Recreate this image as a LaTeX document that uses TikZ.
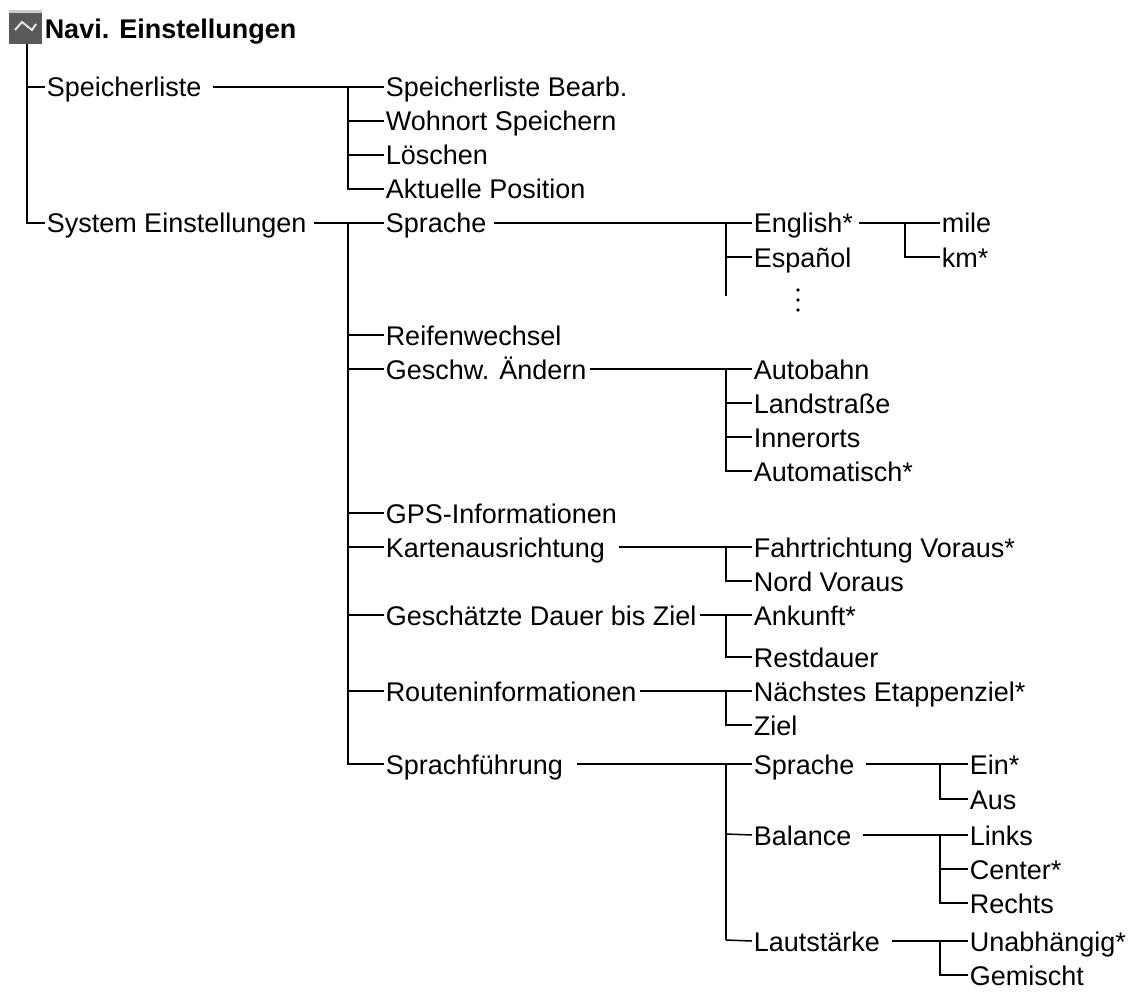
\documentclass[tikz,border=0pt]{standalone}
\usepackage{fontspec}
\setmainfont{Liberation Sans}
\begin{document}
\begin{tikzpicture}[x=1pt,y=-1pt,line width=1.5pt,
 t/.style={anchor=west,inner sep=1pt,text height=20pt,text depth=0pt,font=\fontsize{27}{30}\selectfont,yshift=-1pt}]
\useasboundingbox (0,0) rectangle (1145,992);
% icon
\fill[gray!70!black] (9,10) rectangle (42,44);
\fill[gray!40] (9,10) rectangle (42,13);
\draw[white!80!gray,line width=2pt] (15,30) -- (22,22) -- (32,30) -- (36,24);
\node[anchor=west,inner sep=0pt,font=\bfseries\fontsize{27}{30}\selectfont] (root) at (44,32) {Navi. Einstellungen};
% level 1
\node[t] (sp) at (45,86) {Speicherliste};
\node[t] (se) at (45,222) {System Einstellungen};
\draw (27,44) |- (sp.west);
\draw (27,86) |- (se.west);
% Speicherliste children
\node[t] (a1) at (384,86) {Speicherliste Bearb.};
\node[t] (a2) at (384,120) {Wohnort Speichern};
\node[t] (a3) at (384,154) {Löschen};
\node[t] (a4) at (384,188) {Aktuelle Position};
\draw ([xshift=10pt]sp.east) -- (a1.west);
\draw (348,86) |- (a4.west);
\foreach \n in {a2,a3} \draw (348,0 |- \n.west) -- (\n.west);
% System children
\node[t] (b1) at (384,222) {Sprache};
\node[t] (b2) at (384,334) {Reifenwechsel};
\node[t] (b3) at (384,368) {Geschw. Ändern};
\node[t] (b4) at (384,512) {GPS-Informationen};
\node[t] (b5) at (384,546) {Kartenausrichtung};
\node[t] (b6) at (384,614) {Geschätzte Dauer bis Ziel};
\node[t] (b7) at (384,690) {Routeninformationen};
\node[t] (b8) at (384,763) {Sprachführung};
\draw ([xshift=6pt]se.east) -- (b1.west);
\draw (348,222) |- (b8.west);
\foreach \n in {b2,b3,b4,b5,b6,b7} \draw (348,0 |- \n.west) -- (\n.west);
% Sprache
\node[t] (c1) at (752,222) {English*};
\node[t] (c2) at (752,256) {Español};
\coordinate (cd) at (798,300);
\foreach \dy in {-10,0,10} \fill ([yshift=\dy pt]cd) circle (1.8pt);
\draw ([xshift=6pt]b1.east) -- (c1.west);
\draw (726,222) -- (726,296);
\draw (726,0 |- c2.west) -- (c2.west);
\node[t] (d1) at (940,222) {mile};
\node[t] (d2) at (940,256) {km*};
\draw ([xshift=4pt]c1.east) -- (d1.west);
\draw (905,222) |- (d2.west);
% Geschw
\node[t] (e1) at (752,368) {Autobahn};
\node[t] (e2) at (752,402) {Landstraße};
\node[t] (e3) at (752,436) {Innerorts};
\node[t] (e4) at (752,470) {Automatisch*};
\draw ([xshift=2pt]b3.east) -- (e1.west);
\draw (726,368) |- (e4.west);
\foreach \n in {e2,e3} \draw (726,0 |- \n.west) -- (\n.west);
% Karten
\node[t] (f1) at (752,546) {Fahrtrichtung Voraus*};
\node[t] (f2) at (752,580) {Nord Voraus};
\draw ([xshift=12pt]b5.east) -- (f1.west);
\draw (726,546) |- (f2.west);
% Geschaetzte
\node[t] (g1) at (752,614) {Ankunft*};
\node[t] (g2) at (752,656) {Restdauer};
\draw ([xshift=2pt]b6.east) -- (g1.west);
\draw (726,614) |- (g2.west);
% Routen
\node[t] (h1) at (752,690) {Nächstes Etappenziel*};
\node[t] (h2) at (752,724) {Ziel};
\draw ([xshift=2pt]b7.east) -- (h1.west);
\draw (726,690) |- (h2.west);
% Sprachfuehrung
\node[t] (i1) at (752,763) {Sprache};
\node[t] (i2) at (752,834) {Balance};
\node[t] (i3) at (752,940) {Lautstärke};
\draw ([xshift=12pt]b8.east) -- (i1.west);
\draw[line width=2.6pt] (726,763) -- (726,940);
\draw (726,940) -- (i3.west);
\draw (726,834) -- (i2.west);
\node[t] (j1) at (968,763) {Ein*};
\node[t] (j2) at (968,798) {Aus};
\node[t] (j3) at (968,834) {Links};
\node[t] (j4) at (968,868) {Center*};
\node[t] (j5) at (968,902) {Rechts};
\node[t] (j6) at (968,940) {Unabhängig*};
\node[t] (j7) at (968,974) {Gemischt};
\draw ([xshift=10pt]i1.east) -- (j1.west);
\draw (940,763) |- (j2.west);
\draw ([xshift=10pt]i2.east) -- (j3.west);
\draw (940,834) |- (j5.west);
\draw (940,0 |- j4.west) -- (j4.west);
\draw ([xshift=10pt]i3.east) -- (j6.west);
\draw (940,940) |- (j7.west);
\end{tikzpicture}
\end{document}
